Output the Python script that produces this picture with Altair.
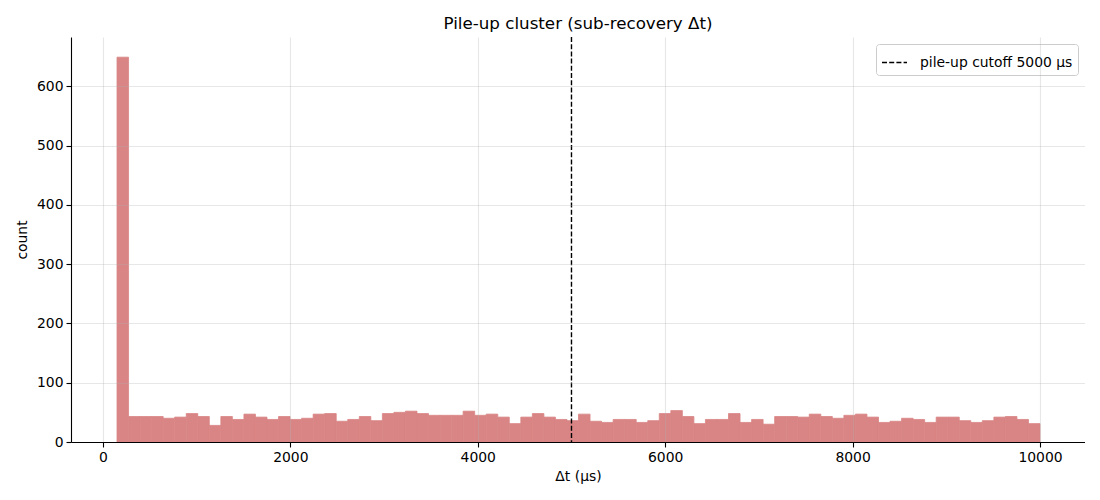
import altair as alt
import numpy as np
import pandas as pd

# ---- data ----
counts = [649, 43, 43, 43, 40, 42, 48, 43, 28, 43, 38, 47, 42, 38, 43, 38, 40, 47, 48, 35,
          38, 43, 36, 48, 50, 52, 48, 45, 45, 45, 52, 45, 47, 42, 31, 42, 48, 42, 38, 36,
          47, 35, 33, 38, 38, 33, 36, 48, 53, 43, 31, 38, 38, 48, 33, 38, 30, 43, 43, 42,
          47, 43, 40, 45, 47, 42, 33, 35, 40, 38, 33, 42, 42, 36, 33, 36, 42, 43, 38, 31]
bin_lo = 150.0
bin_hi = 10000.0
cutoff = [5000]
cutoff_label = ["pile-up cutoff 5000 μs"]
x_ticks = [0, 2000, 4000, 6000, 8000, 10000]
y_ticks = [0, 100, 200, 300, 400, 500, 600]

edges = np.linspace(bin_lo, bin_hi, len(counts) + 1)
df = pd.DataFrame({"start": edges[:-1], "end": edges[1:], "count": counts})
df["base"] = 0
cut_df = pd.DataFrame({"x": cutoff, "label": cutoff_label})

FONT = "DejaVu Sans"
BAR = "#d98585"
xscale = alt.Scale(domain=[-341, 10480], nice=False, zero=False)
yscale = alt.Scale(domain=[0, 683], nice=False, zero=False)

bars = alt.Chart(df).mark_rect(color=BAR, stroke=BAR, strokeWidth=0.8).encode(
    x=alt.X("start:Q", scale=xscale,
            axis=alt.Axis(title="Δt (μs)", values=x_ticks, format="d", titlePadding=6, zindex=1)),
    x2="end:Q",
    y=alt.Y("count:Q", scale=yscale,
            axis=alt.Axis(title="count", values=y_ticks, format="d", titlePadding=7, zindex=1)),
    y2="base:Q",
)

rule = alt.Chart(cut_df).mark_rule(color="black", strokeWidth=1.4).encode(
    x=alt.X("x:Q", scale=xscale),
    strokeDash=alt.StrokeDash(
        "label:N",
        scale=alt.Scale(domain=cutoff_label, range=[[5, 2.2]]),
        legend=alt.Legend(
            title=None, orient="top-right", offset=7,
            fillColor="white", strokeColor="#cccccc", cornerRadius=3,
            padding=5, labelFont=FONT, labelFontSize=13.9, labelColor="black",
            symbolType="stroke", symbolSize=625, symbolStrokeColor="black",
            symbolStrokeWidth=1.4, labelOffset=12,
        ),
    ),
)

chart = (
    alt.layer(bars, rule)
    .properties(
        width=1014, height=405,
        title=alt.TitleParams("Pile-up cluster (sub-recovery Δt)", font=FONT,
                              fontSize=16.7, fontWeight="normal", color="black",
                              anchor="middle", offset=4),
        autosize=alt.AutoSizeParams(type="none"),
        padding={"left": 63, "top": 29, "right": 0, "bottom": 48},
    )
    .configure_view(strokeWidth=0)
    .configure_axis(
        domainColor="black", domainWidth=1.1, tickColor="black", tickSize=5,
        tickWidth=1.1, labelFont=FONT, labelFontSize=13.9, labelColor="black",
        labelPadding=3, titleFont=FONT, titleFontSize=13.9, titleFontWeight="normal",
        titleColor="black", gridColor="#b0b0b0", gridOpacity=0.3, gridWidth=1.1,
    )
)

chart.save("out.html", embed_options={"renderer": "svg", "actions": False})
